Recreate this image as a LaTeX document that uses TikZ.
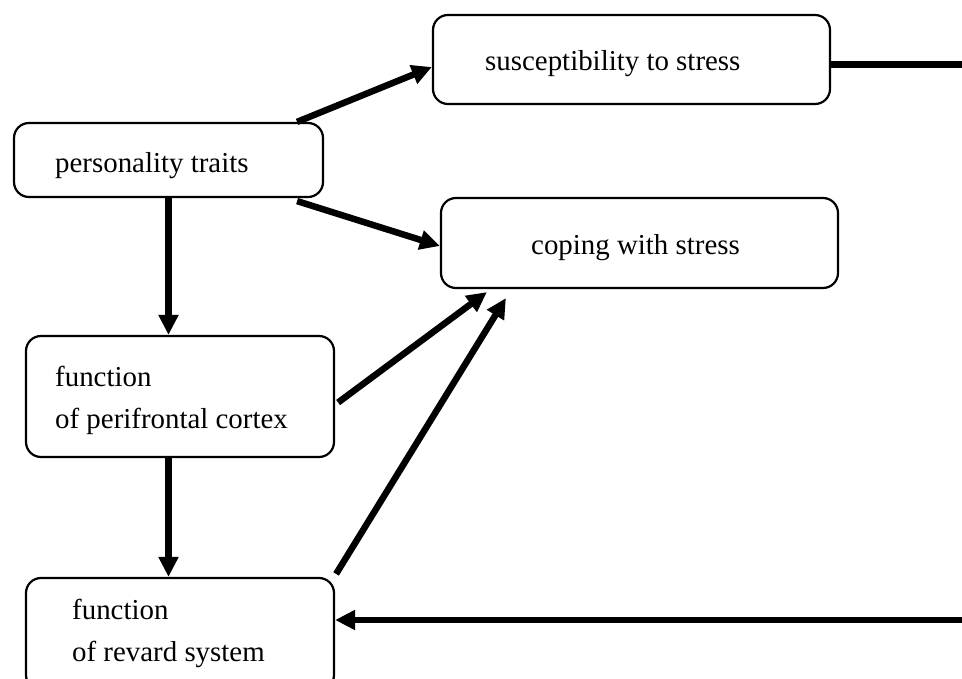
\documentclass[tikz,border=0pt]{standalone}
\usepackage{fontspec}
\setmainfont{Liberation Serif}
\usetikzlibrary{arrows.meta,calc}

\tikzset{
  box/.style={draw, line width=2.2bp, rounded corners=15bp, inner sep=0pt},
  lbl/.style={inner sep=0pt, font=\fontsize{29}{42}\selectfont, anchor=base west},
  link/.style={line width=6.5bp, -{Triangle[length=20bp,width=19bp]}},
  plain/.style={line width=7bp}
}

\begin{document}
\begin{tikzpicture}[x=1bp, y=-1bp]
  \useasboundingbox (0,0) rectangle (962,679);
  \clip (0,0) rectangle (962,679);

  % boxes
  \node[box, minimum width=309bp, minimum height=74bp]  (pt)  at (168.5,160)  {};
  \node[box, minimum width=397bp, minimum height=89bp]  (sus) at (631.5,59.5) {};
  \node[box, minimum width=397bp, minimum height=90bp]  (cop) at (639.5,243)  {};
  \node[box, minimum width=308bp, minimum height=121bp] (pfc) at (180,396.5)  {};
  \node[box, minimum width=308bp, minimum height=112bp] (rew) at (180,634)    {};

  % texts
  \node[lbl] (pt-t)  at (55,173)  {personality traits};
  \node[lbl] (sus-t) at (485,71)  {susceptibility to stress};
  \node[lbl] (cop-t) at (531,254) {coping with stress};
  \node[lbl] (pfc-t1) at (55,386) {function};
  \node[lbl] (pfc-t2) at (55,428) {of perifrontal cortex};
  \node[lbl] (rew-t1) at (72,619) {function};
  \node[lbl] (rew-t2) at (72,661) {of revard system};

  % free ends at the right margin
  \coordinate (outA) at (962,65);
  \coordinate (outB) at (962,620);

  % connectors
  \draw[link] ($(pt.north east)+(-27,0)$) -- ($(sus.west)+(0,7.5)$);
  \draw[link] ($(pt.south east)+(-27,3)$) -- ($(cop.west)+(0,3)$);
  \draw[link] (pt.south) -- (pt.south |- pfc.north);
  \draw[link] ($(pfc.east)+(3,6)$) -- ($(cop.south west)+(47,3)$);
  \draw[link] ($(rew.north east)+(1,-3)$) -- ($(cop.south west)+(66,9)$);
  \draw[link] (pfc.south -| pt.south) -- (pt.south |- rew.north);
  \draw[plain] (sus.east |- outA) -- (outA);
  \draw[link] (outB) -- (outB -| rew.east);
\end{tikzpicture}
\end{document}
